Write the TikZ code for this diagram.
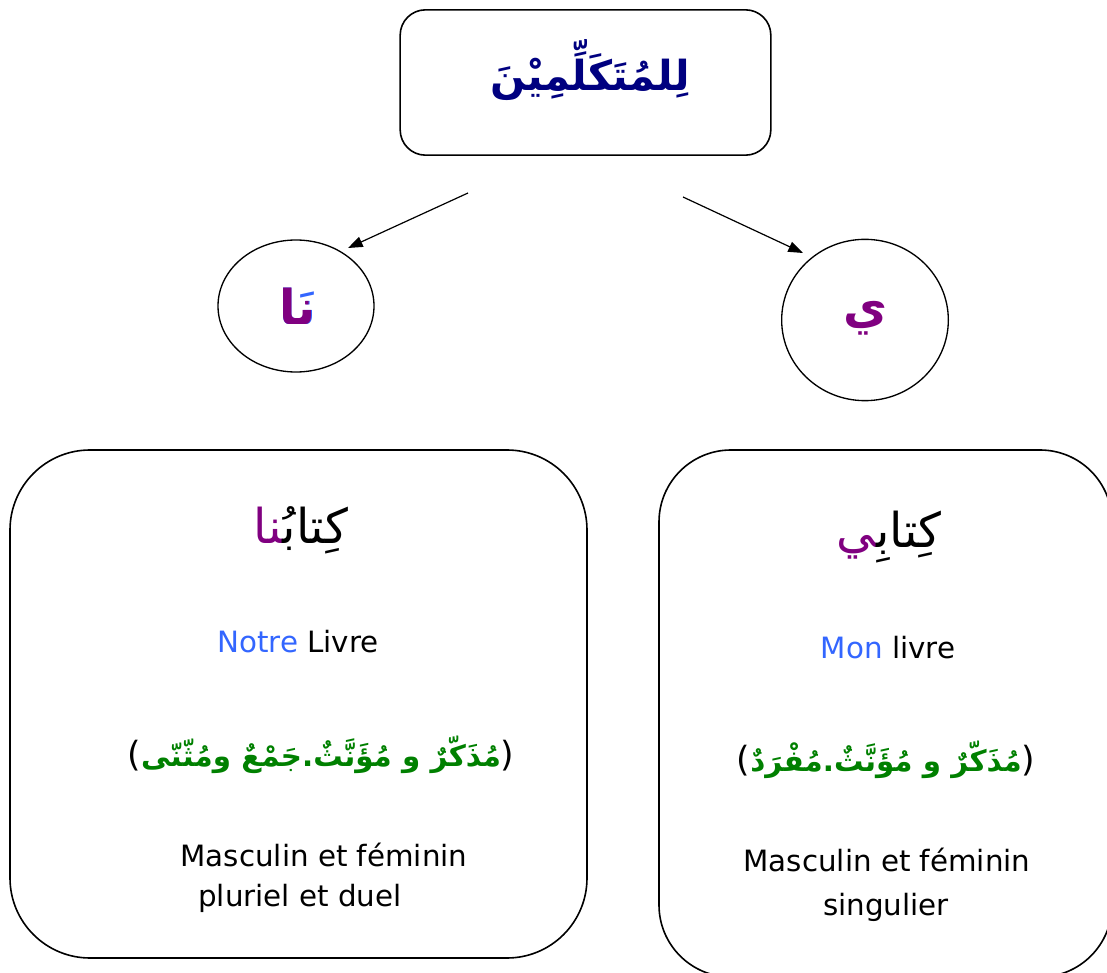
\documentclass[tikz,border=0pt]{standalone}
\usepackage{fontspec}
\usetikzlibrary{shapes.geometric, arrows.meta}
\setmainfont{DejaVu Sans}
\newfontfamily\arabicfont[Script=Arabic]{DejaVu Sans}
\TeXXeTstate=1
\definecolor{titleblue}{HTML}{000080}
\definecolor{suffixpurple}{HTML}{800080}
\definecolor{genregreen}{HTML}{008000}
\definecolor{frblue}{HTML}{3366FF}
\newcommand{\zwj}{^^^^200d}
\newcommand{\paren}[1]{{\rmfamily\mdseries\fontsize{26}{30}\selectfont #1}}

\begin{document}
\begin{tikzpicture}[x=0.75pt, y=-0.75pt,
    pronoun/.style={draw, ellipse, line width=1pt, inner sep=0pt},
    casebox/.style={draw, line width=1.2pt},
    arword/.style={font=\arabicfont\fontsize{36}{42}\selectfont},
    argenre/.style={font=\arabicfont\bfseries\fontsize{22}{26}\selectfont},
    frtext/.style={font=\fontsize{22}{26}\selectfont}]
    \useasboundingbox (0,0) rectangle (1107,973);
    \clip (0,0) rectangle (1107,973);

    % title
    \node[casebox, rounded corners=19pt, minimum width=278pt, minimum height=109pt] (top) at (585.5,82.5) {};
    \node[text=titleblue, font=\arabicfont\bfseries\fontsize{31}{36}\selectfont] (title) at (590,70) {\beginR لِلمُتَكَلِّمِيْنَ\endR};

    % the two suffixes
    \node[pronoun, minimum width=117pt, minimum height=99pt] (na) at (296,306) {};
    \node[font=\arabicfont\bfseries\fontsize{36}{42}\selectfont] (natext) at (298,306) {\rlap{\color{frblue}نَا}{\color{suffixpurple}نا}};
    \node[pronoun, minimum width=125pt, minimum height=121pt] (ya) at (865,320) {};
    \node[text=suffixpurple, font=\arabicfont\bfseries\fontsize{36}{42}\selectfont] (yatext) at (865,318) {ي};

    \coordinate (na1) at (468,193);
    \coordinate (na2) at (348,248);
    \coordinate (ya1) at (683,197);
    \coordinate (ya2) at (803,253);
    \draw[-{Stealth[inset=0pt, length=11pt, width=8pt]}, line width=0.9pt] (na1) -- (na2);
    \draw[-{Stealth[inset=0pt, length=11pt, width=8pt]}, line width=0.9pt] (ya1) -- (ya2);

    % plural box
    \node[casebox, rounded corners=60pt, minimum width=432.75pt, minimum height=381pt] (pl) at (298.5,704) {};
    \node[arword] (plword) at (301,530) {{\color{suffixpurple}\zwj نا}كِتابُ\zwj};
    \node[frtext] (plfr) at (298,642) {{\color{frblue}Notre} Livre};
    \node[argenre] (plgenre) at (321,755) {\paren{(}{\color{genregreen}\beginR مُذَكّرٌ و مُؤَنَّثٌ.جَمْعٌ ومُثّنّى\endR}\paren{)}};
    \node[frtext] (plm1) at (324,855) {Masculin et féminin};
    \node[frtext] (plm2) at (300,898) {pluriel et duel};

    % singular box
    \node[casebox, rounded corners=54pt, minimum width=339.75pt, minimum height=395.25pt] (sg) at (885.5,713.5) {};
    \node[arword] (sgword) at (889,537) {{\color{suffixpurple}\zwj ي}كِتابِ\zwj};
    \node[frtext] (sgfr) at (888,648) {{\color{frblue}Mon} livre};
    \node[argenre] (sggenre) at (886,760) {\paren{(}{\color{genregreen}\beginR مُذَكّرٌ و مُؤَنَّثٌ.مُفْرَدٌ\endR}\paren{)}};
    \node[frtext] (sgm1) at (887,860) {Masculin et féminin};
    \node[frtext] (sgm2) at (886,907) {singulier};
\end{tikzpicture}
\end{document}
